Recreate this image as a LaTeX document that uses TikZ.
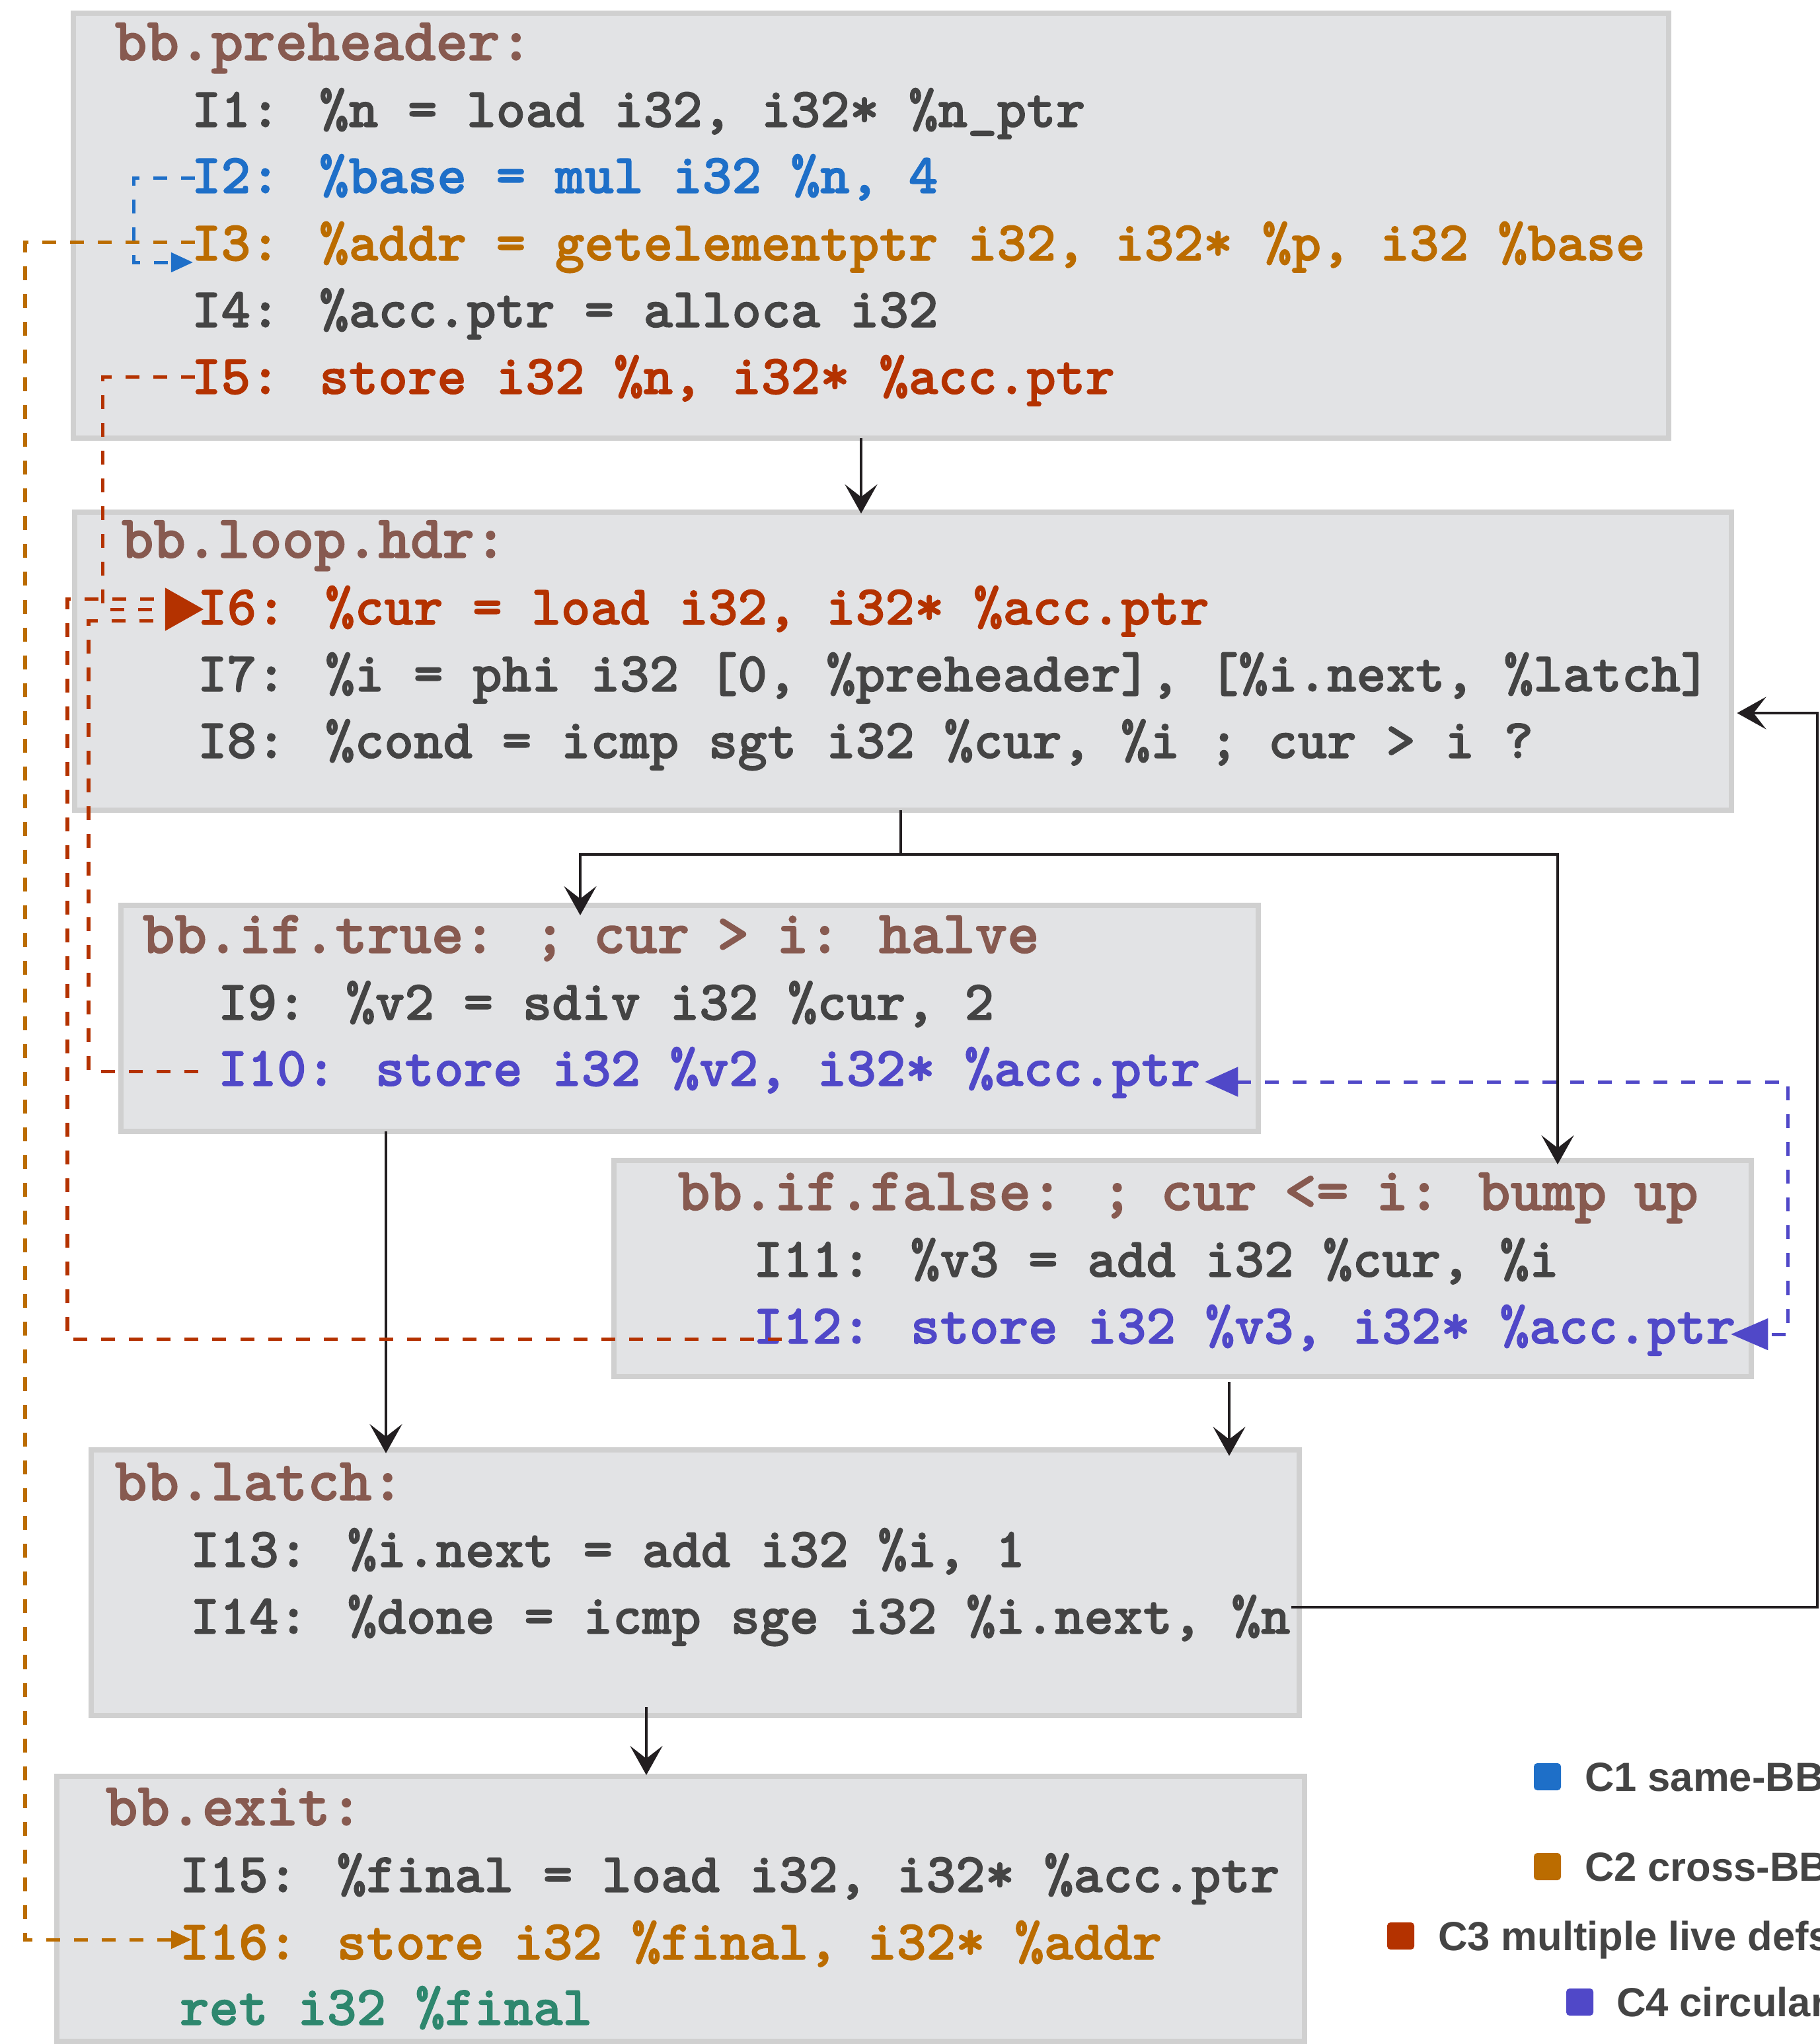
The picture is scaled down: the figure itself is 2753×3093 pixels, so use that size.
\documentclass[tikz,border=0pt]{standalone}
\usepackage{fontspec}
\usetikzlibrary{arrows.meta,calc}
\newfontfamily\legendfont{Liberation Sans}
\newfontfamily\codefam{lmmonolt10-bold}[Extension=.otf, FakeBold=1.5]
\newcommand\codefont{\codefam\fontsize{24.15pt}{29pt}\selectfont}
\newcommand\hdrfont{\codefam\fontsize{26.3pt}{31pt}\selectfont\spaceskip=0.415cm\relax}
\definecolor{boxfill}{HTML}{E2E3E5}
\definecolor{boxborder}{HTML}{D0D0D0}
\definecolor{hdrbrown}{HTML}{875A50}
\definecolor{codegray}{HTML}{444444}
\definecolor{cblue}{HTML}{1E6FC8}
\definecolor{corange}{HTML}{BB6C00}
\definecolor{cred}{HTML}{B43200}
\definecolor{cpurple}{HTML}{5048C8}
\definecolor{cgreen}{HTML}{2E876E}
\definecolor{flowblack}{HTML}{221E20}
\tikzset{
  box/.style={draw=boxborder, fill=boxfill, line width=0.08cm, rectangle, inner sep=0pt, outer sep=0pt, anchor=north west},
  code/.style={anchor=base west, inner sep=0pt, outer sep=0pt, font=\codefont, text=codegray},
  hdrtext/.style={anchor=base west, inner sep=0pt, outer sep=0pt, font=\hdrfont, text=hdrbrown},
  flowline/.style={draw=flowblack, line width=0.04cm},
  flow/.style={flowline, -{Stealth[length=0.44cm,width=0.49cm,inset=0.19cm]}},
  dep/.style={line width=0.05cm, dash pattern=on 0.21cm off 0.21cm},
  legsq/.style={rectangle, inner sep=0pt, outer sep=0pt, minimum size=0.41cm, rounded corners=0.05cm, anchor=north west},
  legtext/.style={anchor=base west, inner sep=0pt, outer sep=0pt, font=\legendfont\bfseries\fontsize{17.5pt}{21pt}\selectfont, text=codegray}
}
\begin{document}
\begin{tikzpicture}[x=0.01cm,y=-0.01cm]
\useasboundingbox (0,0) rectangle (2753,3093);
\fill[white] (0,0) rectangle (2753,3093);

% basic blocks
\node[box, minimum width=24.13cm, minimum height=6.43cm] (pre) at (111,20) {};
\node[box, minimum width=25.06cm, minimum height=4.51cm] (hdr) at (113,775) {};
\node[box, minimum width=17.20cm, minimum height=3.42cm] (iftrue) at (183,1370) {};
\node[box, minimum width=17.20cm, minimum height=3.27cm] (iffalse) at (929,1756) {};
\node[box, minimum width=18.27cm, minimum height=4.02cm] (latch) at (138,2194) {};
\node[box, minimum width=18.87cm, minimum height=4.01cm] (exit) at (86,2688) {};

% bb.preheader
\node[hdrtext] (preh) at (174,91) {bb.preheader:};
\node[code] (i1) at (290,192) {I1: \%n = load i32, i32* \%n\_ptr};
\node[code, text=cblue] (i2) at (290,292) {I2: \%base = mul i32 \%n, 4};
\node[code, text=corange] (i3) at (290,394) {I3: \%addr = getelementptr i32, i32* \%p, i32 \%base};
\node[code] (i4) at (290,495) {I4: \%acc.ptr = alloca i32};
\node[code, text=cred] (i5) at (290,596) {I5: store i32 \%n, i32* \%acc.ptr};

% bb.loop.hdr
\node[hdrtext] (hdrh) at (184,844) {bb.loop.hdr:};
\node[code, text=cred] (i6) at (299,945) {I6: \%cur = load i32, i32* \%acc.ptr};
\node[code] (i7) at (299,1046) {I7: \%i = phi i32 [0, \%preheader], [\%i.next, \%latch]};
\node[code] (i8) at (299,1147) {I8: \%cond = icmp sgt i32 \%cur, \%i ; cur > i ?};

% bb.if.true
\node[hdrtext] (trueh) at (216,1442) {bb.if.true: ; cur > i: halve};
\node[code] (i9) at (330,1543) {I9: \%v2 = sdiv i32 \%cur, 2};
\node[code, text=cpurple] (i10) at (330,1643) {I10: store i32 \%v2, i32* \%acc.ptr};

% bb.if.false
\node[hdrtext] (falseh) at (1026,1831) {bb.if.false: ; cur <= i: bump up};
\node[code] (i11) at (1140,1932) {I11: \%v3 = add i32 \%cur, \%i};
\node[code, text=cpurple] (i12) at (1140,2033) {I12: store i32 \%v3, i32* \%acc.ptr};

% bb.latch
\node[hdrtext] (latchh) at (174,2270) {bb.latch:};
\node[code] (i13) at (288,2371) {I13: \%i.next = add i32 \%i, 1};
\node[code] (i14) at (288,2472) {I14: \%done = icmp sge i32 \%i.next, \%n};

% bb.exit
\node[hdrtext] (exith) at (160,2762) {bb.exit:};
\node[code] (i15) at (272,2863) {I15: \%final = load i32, i32* \%acc.ptr};
\node[code, text=corange] (i16) at (272,2965) {I16: store i32 \%final, i32* \%addr};
\node[code, text=cgreen] (ret) at (272,3064) {ret i32 \%final};

% control flow
\draw[flow] ($(pre.south west)+(1192,0)$) -- ($(hdr.north west)+(1190,2)$);
\draw[flowline] ($(hdr.south west)+(1250,0)$) -- ++(0,67) coordinate (split);
\draw[flow] (split) -| ($(iftrue.north west)+(695,15)$);
\draw[flow] (split) -| ($(iffalse.north west)+(1428,6)$);
\draw[flow] ($(iftrue.south west)+(401,0)$) -- ($(latch.north west)+(446,5)$);
\draw[flow] ($(iffalse.south west)+(931,8)$) -- ($(latch.north west)+(1722,9)$);
\draw[flow] ($(latch.south west)+(840,-13)$) -- ($(exit.north west)+(892,-2)$);
\draw[flow] ($(latch.north east)+(-12,238)$) -- ++(796,0) |- ($(hdr.north east)+(8,304)$);

% C1 same-BB
\draw[dep, draw=cblue, -{Triangle[length=0.33cm,width=0.29cm]}] ($(i2.base west)+(5,-23)$) -- ++(-93,0) |- ($(i3.base west)+(2,3)$);
% C2 cross-BB
\draw[dep, draw=corange, -{Triangle[length=0.31cm,width=0.27cm]}] ($(i3.base west)+(5,-28)$) -- ++(-257,0) |- ($(i16.base west)+(18,-30)$);
% C3 multiple live defs
\draw[dep, draw=cred] ($(i10.base west)+(-30,-22)$) -- ++(-166,0) |- ($(i6.base west)+(-49,-6)$);
\draw[dep, draw=cred] ($(i12.base west)+(43,-7)$) -- ++(-1081,0) |- ($(i6.base west)+(-49,-39)$);
\draw[dep, draw=cred, -{Triangle[length=0.58cm,width=0.64cm]}] ($(i5.base west)+(5,-26)$) -- ++(-140,0) |- ($(i6.base west)+(9,-23)$);
% C4 circular
\draw[dep, draw=cpurple, {Triangle[length=0.50cm,width=0.44cm]}-{Triangle[length=0.56cm,width=0.47cm]}] ($(i10.base east)+(7,-6)$) -- ++(882,0) |- ($(i12.base east)+(-7,-14)$);

% legend
\node[legsq, fill=cblue] (l1) at (2321,2668) {};
\node[legtext] (l1t) at (2398,2710) {C1 same-BB};
\node[legsq, fill=corange] (l2) at (2321,2804) {};
\node[legtext] (l2t) at (2398,2846) {C2 cross-BB};
\node[legsq, fill=cred] (l3) at (2099,2909) {};
\node[legtext] (l3t) at (2176,2951) {C3 multiple live defs};
\node[legsq, fill=cpurple] (l4) at (2370,3009) {};
\node[legtext] (l4t) at (2446,3051) {C4 circular};
\end{tikzpicture}
\end{document}
